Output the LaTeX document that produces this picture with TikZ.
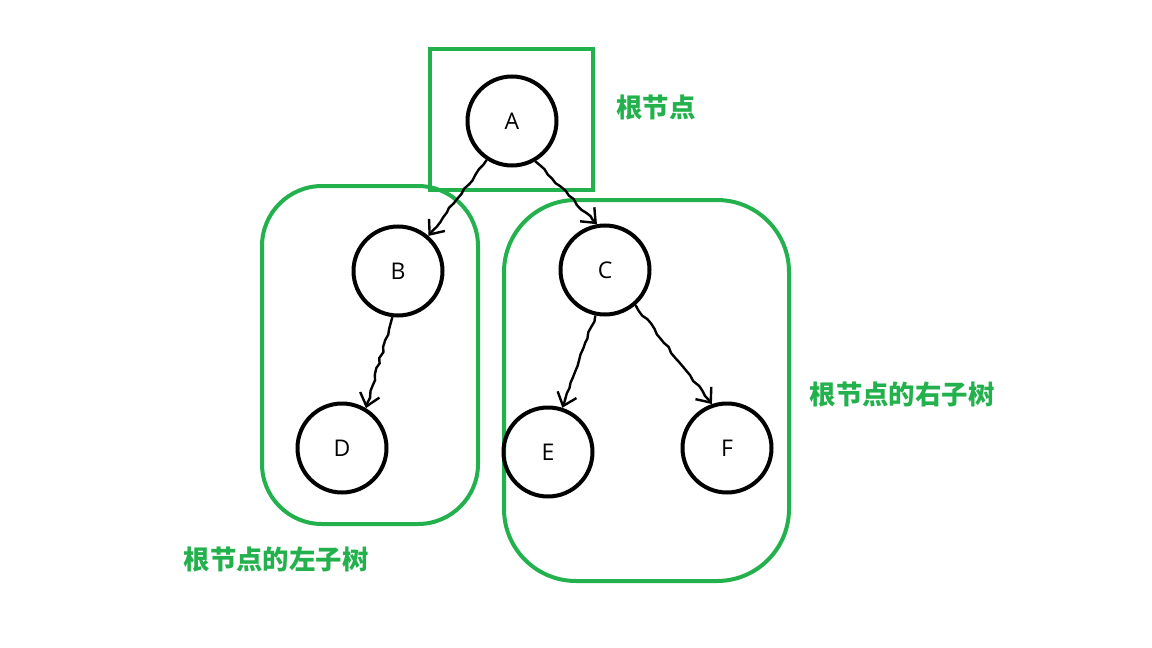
\documentclass[tikz,border=0pt]{standalone}
\usepackage{fontspec}
\setmainfont{Open Sans}
\newfontfamily\cjk{Noto Sans CJK SC}
\usetikzlibrary{arrows.meta,decorations.pathmorphing}
\definecolor{paintgreen}{RGB}{34,177,76}

\begin{document}
\begin{tikzpicture}[x=0.5pt,y=-0.5pt,
    tnode/.style={circle,draw=black,line width=2pt,minimum size=44.5pt,inner sep=0pt,font=\fontsize{11.5}{13}\selectfont},
    grbox/.style={draw=paintgreen,line width=2pt},
    lbl/.style={text=paintgreen,font=\cjk\bfseries\fontsize{13.2}{15}\selectfont},
    hand/.style={line width=1.2pt,-{Straight Barb[length=6pt,width=10pt]},
      decorate,decoration={random steps,segment length=3pt,amplitude=0.6pt,post length=3pt}}]
  \useasboundingbox (0,0) rectangle (1152,648);
  \pgfmathsetseed{7}
  % groups
  \draw[grbox] (430,49) rectangle (593,190);
  \draw[grbox,rounded corners=30pt] (262,186) rectangle (478,524);
  \draw[grbox,rounded corners=36pt] (504,200) rectangle (789,581);
  % tree
  \node[tnode] (A) at (512,121) {A};
  \node[tnode] (B) at (398,271) {B};
  \node[tnode] (C) at (605,270) {C};
  \node[tnode] (D) at (342,448) {D};
  \node[tnode] (E) at (548,452) {E};
  \node[tnode] (F) at (727,448) {F};
  \path
    (A.237) edge[hand] (B.49)
    (A.300) edge[hand] (C.100)
    (B.263) edge[hand] (D.59)
    (C.258) edge[hand] (E.72)
    (C.311) edge[hand] (F.109)
  ;
  \node[lbl] (root) at (656,108) {根节点};
  \node[lbl] (right) at (902,395) {根节点的右子树};
  \node[lbl] (left) at (276,560) {根节点的左子树};
\end{tikzpicture}
\end{document}
